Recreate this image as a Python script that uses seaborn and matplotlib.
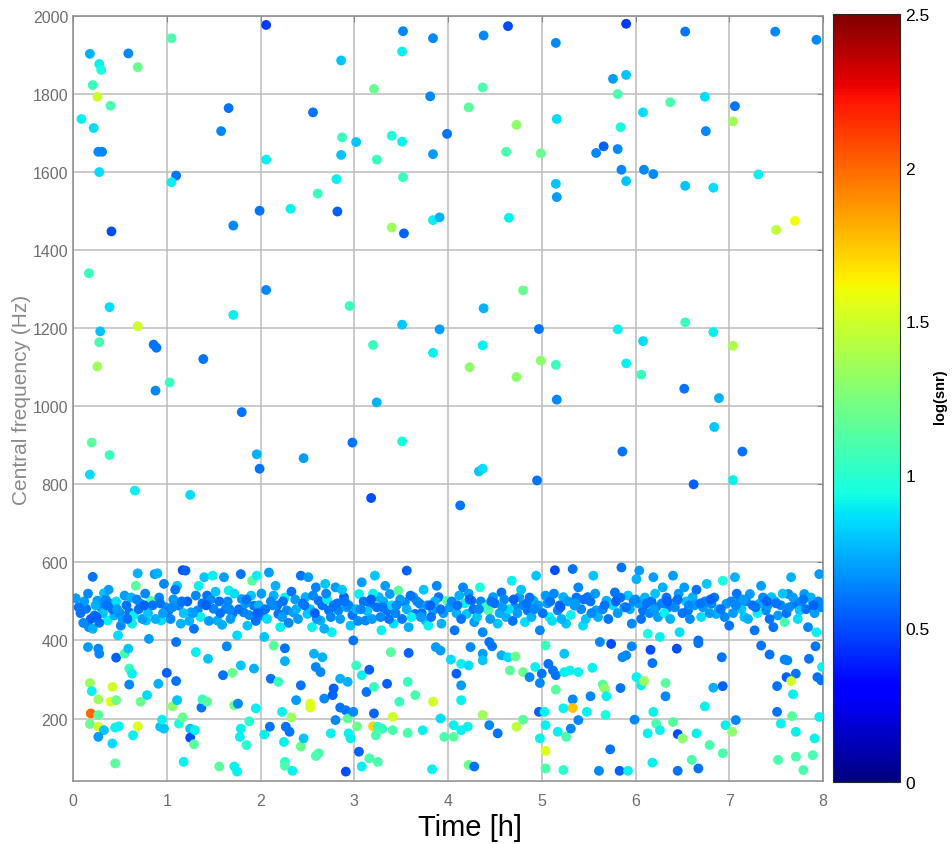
import pandas as pd
import seaborn as sns
import matplotlib.pyplot as plt
import matplotlib as mpl

# events above 600 Hz
high_time = [1.05, 0.18, 0.59, 0.28, 0.30, 0.69, 0.21, 0.26, 0.40, 0.09, 0.22, 1.66, 1.58, 0.27, 0.31, 0.28, 1.10, 1.05, 1.99, 1.71, 0.41, 0.17,
             2.06, 3.52, 3.84, 3.51, 2.86, 3.21, 3.81, 2.56, 2.87, 3.02, 3.40, 3.51, 3.99, 2.86, 3.24, 3.84, 2.06, 2.81, 3.52, 2.61, 2.32, 2.82, 3.40, 3.53, 3.84, 3.91,
             4.64, 4.38, 5.15, 5.90, 4.37, 5.76, 5.90, 5.81, 4.22, 4.73, 5.16, 5.84, 4.62, 4.99, 5.66, 5.58, 5.81, 5.85, 5.90, 5.15, 5.16, 4.65,
             6.53, 7.49, 7.93, 6.74, 6.37, 6.08, 7.06, 7.04, 6.75, 6.09, 6.19, 7.31, 6.53, 6.83, 7.50, 7.70,
             0.39, 0.29, 0.69, 0.28, 0.26, 0.86, 0.89, 1.39, 1.71, 1.03, 0.88, 1.80, 0.20, 0.39, 0.18, 0.66, 1.25, 1.96, 1.99,
             2.06, 2.95, 3.51, 3.91, 3.20, 3.84, 3.24, 2.98, 3.51, 2.46, 3.18,
             4.80, 4.38, 4.97, 5.81, 4.37, 4.99, 5.15, 4.23, 4.73, 5.90, 5.16, 5.86, 4.33, 4.37, 4.95, 4.13,
             6.53, 6.83, 6.08, 7.04, 6.06, 6.52, 6.89, 6.84, 7.14, 6.62, 7.04]
high_freq = [1943, 1903, 1904, 1877, 1862, 1869, 1823, 1793, 1770, 1736, 1713, 1764, 1705, 1652, 1652, 1600, 1591, 1574, 1501, 1463, 1448, 1341,
             1977, 1961, 1943, 1909, 1886, 1813, 1794, 1753, 1689, 1677, 1693, 1678, 1698, 1644, 1632, 1646, 1632, 1582, 1587, 1545, 1506, 1499, 1458, 1443, 1477, 1484,
             1974, 1950, 1931, 1980, 1817, 1839, 1849, 1800, 1766, 1721, 1736, 1715, 1652, 1648, 1666, 1649, 1659, 1606, 1577, 1570, 1536, 1483,
             1960, 1960, 1939, 1793, 1779, 1753, 1769, 1730, 1705, 1606, 1595, 1594, 1565, 1560, 1452, 1475,
             1254, 1192, 1205, 1164, 1102, 1158, 1150, 1121, 1234, 1061, 1040, 985, 907, 875, 825, 784, 773, 877, 840,
             1298, 1257, 1209, 1197, 1157, 1137, 1010, 907, 910, 867, 765,
             1297, 1251, 1198, 1197, 1156, 1117, 1106, 1100, 1075, 1110, 1017, 884, 833, 840, 810, 746,
             1215, 1190, 1167, 1155, 1081, 1045, 1021, 947, 884, 800, 811]
high_snr = [1.1, 0.75, 0.65, 0.9, 0.95, 1.2, 1.05, 1.5, 1.1, 0.9, 0.85, 0.6, 0.65, 0.65, 0.65, 0.85, 0.6, 0.9, 0.6, 0.65, 0.5, 1.05,
            0.45, 0.65, 0.65, 0.9, 0.8, 1.2, 0.65, 0.6, 1.05, 0.8, 0.95, 0.9, 0.6, 0.8, 1.05, 0.7, 0.9, 0.9, 1.05, 1.05, 0.9, 0.55, 1.35, 0.55, 0.9, 0.75,
            0.5, 0.65, 0.65, 0.45, 1.1, 0.7, 0.8, 1.1, 1.15, 1.3, 0.85, 0.95, 1.1, 1.2, 0.55, 0.65, 0.65, 0.65, 0.8, 0.8, 0.7, 0.9,
            0.6, 0.65, 0.65, 0.85, 1.1, 0.85, 0.6, 1.35, 0.65, 0.65, 0.65, 0.9, 0.8, 0.85, 1.45, 1.6,
            0.85, 0.8, 1.5, 1.1, 1.35, 0.6, 0.6, 0.6, 0.9, 1.05, 0.65, 0.6, 1.15, 1.05, 0.85, 0.9, 0.85, 0.75, 0.6,
            0.65, 1.05, 0.8, 0.7, 1.05, 0.9, 0.75, 0.6, 0.95, 0.7, 0.5,
            1.2, 0.75, 0.6, 0.9, 0.9, 1.3, 1.05, 1.3, 1.3, 0.9, 0.65, 0.6, 0.8, 0.85, 0.6, 0.6,
            1.05, 0.9, 0.85, 1.4, 1.05, 0.6, 0.75, 0.8, 0.6, 0.55, 0.9]

# sparse events below 400 Hz, first half
low1_time = [0.16, 0.27, 0.28, 0.46, 0.55, 0.59, 0.60, 0.63, 0.60, 0.18, 0.20, 0.42, 0.27, 0.40, 0.46, 0.72, 0.79, 0.91, 1.00, 1.10,
             1.10, 1.31, 1.44, 1.64, 1.70, 1.79, 1.93, 1.60,
             0.19, 0.27, 0.18, 0.27, 0.33, 0.27, 0.42, 0.45, 0.45, 0.49, 0.64, 0.69, 0.93, 0.97, 0.95, 1.06, 1.11, 1.13, 1.17, 1.18,
             1.25, 1.25, 1.30, 1.29, 1.37, 1.38, 1.43, 1.56, 1.72, 1.75, 1.72, 1.76, 1.79, 1.78, 1.85, 1.88, 1.95,
             2.04, 2.10, 2.11, 2.19, 2.14, 2.26, 2.26, 2.23, 2.27, 2.31, 2.25, 2.33, 2.26, 2.26, 2.34, 2.38, 2.43, 2.43, 2.46, 2.53,
             2.53, 2.59, 2.62, 2.57, 2.66, 2.59, 2.64, 2.68, 2.75, 2.77, 2.78, 2.80, 2.85, 2.93, 2.85, 2.91, 2.93, 2.91, 2.94, 2.96, 2.99]
low1_freq = [383, 379, 366, 356, 366, 379, 328, 315, 287, 291, 270, 281, 249, 243, 247, 243, 260, 289, 317, 296,
             396, 370, 353, 385, 317, 336, 328, 311,
             213, 209, 186, 179, 170, 153, 136, 85, 177, 180, 157, 180, 179, 174, 197, 231, 247, 187, 203, 89,
             174, 151, 170, 134, 228, 249, 243, 77, 77, 64, 234, 238, 174, 153, 132, 193, 226,
             159, 179, 302, 294, 387, 380, 347, 217, 179, 166, 140, 203, 89, 79, 66, 247, 285, 128, 149, 238,
             228, 104, 111, 366, 357, 332, 319, 251, 162, 260, 277, 196, 302, 294, 228, 221, 200, 64, 162, 149, 217]
low1_snr = [0.7, 0.65, 0.65, 0.55, 1.1, 0.8, 1.05, 0.9, 0.65, 1.35, 0.9, 1.5, 1.35, 1.55, 1.2, 1.2, 0.85, 0.75, 0.55, 0.6,
            0.6, 0.9, 0.8, 0.65, 1.2, 0.8, 0.75, 0.6,
            2.0, 1.15, 1.2, 1.5, 0.8, 0.7, 0.85, 1.15, 0.9, 0.9, 0.9, 1.55, 0.8, 0.8, 0.9, 1.3, 0.8, 0.95, 1.2, 0.9,
            0.8, 0.5, 0.9, 1.15, 0.6, 1.05, 1.15, 1.15, 0.9, 0.9, 1.2, 0.65, 0.9, 0.9, 1.0, 1.0, 0.9,
            0.9, 0.6, 0.6, 1.05, 1.15, 0.6, 0.75, 0.9, 0.6, 0.6, 0.9, 1.35, 1.0, 1.1, 0.9, 0.7, 0.6, 1.2, 0.8, 1.55,
            1.55, 1.1, 1.1, 0.75, 0.75, 0.65, 0.65, 0.65, 0.9, 0.55, 0.55, 0.65, 0.75, 0.75, 0.6, 0.6, 1.15, 0.5, 0.9, 0.9, 0.65]

# sparse events below 400 Hz, second half
low2_time = [3.03, 3.02, 3.08, 3.05, 3.08, 3.13, 3.16, 3.16, 3.25, 3.21, 3.21, 3.20, 3.25, 3.30, 3.23, 3.35, 3.41, 3.39, 3.48, 3.41,
             3.58, 3.57, 3.57, 3.65, 3.73, 3.84, 3.83, 3.87, 3.92, 3.92, 3.96, 4.03, 4.06, 4.09, 4.14, 4.14, 4.06, 4.14, 4.21, 4.22,
             4.28, 4.14, 4.24,
             4.22, 4.37, 4.37, 4.44, 4.47, 4.57, 4.64, 4.72, 4.66, 4.80, 4.87, 4.93, 5.04, 5.07, 5.12, 5.15, 5.00, 4.98, 5.15, 5.24,
             5.24, 5.30, 5.39, 5.33, 5.33, 5.23, 5.48, 5.52, 5.54, 5.65, 5.67, 5.69, 5.68, 5.84, 5.86, 5.90, 5.96, 6.01, 6.06, 6.09,
             6.16, 6.18, 6.32, 6.32, 6.44, 6.67, 6.74, 6.83, 6.93, 6.92, 7.34, 7.43, 7.59, 7.62, 7.61, 7.71, 7.66, 7.51, 7.68, 7.85,
             7.92, 7.94, 7.98, 7.99,
             4.37, 4.44, 4.53, 4.73, 4.80, 4.97, 4.98, 5.03, 5.04, 5.17, 5.26, 5.31, 5.39, 5.04, 5.04, 5.23, 5.61, 5.73, 5.83, 5.92,
             5.99, 6.13, 6.19, 6.22, 6.26, 6.18, 6.40, 6.45, 6.50, 6.45, 6.60, 6.65, 6.67, 6.79, 6.93, 6.96, 7.03, 7.07, 7.51, 7.55,
             7.67, 7.71, 7.52, 7.71, 7.79, 7.89, 7.91, 7.96]
low2_freq = [180, 336, 311, 115, 77, 268, 325, 98, 89, 281, 213, 180, 179, 174, 157, 289, 204, 370, 243, 170,
             368, 294, 163, 260, 170, 243, 70, 383, 374, 200, 153, 351, 153, 315, 285, 247, 183, 170, 179, 81,
             77, 340, 383,
             336, 366, 349, 396, 385, 362, 357, 359, 323, 319, 306, 332, 387, 340, 323, 311, 315, 291, 274, 366,
             319, 323, 319, 249, 227, 226, 217, 257, 330, 287, 277, 257, 209, 278, 357, 362, 385, 306, 285, 296,
             376, 342, 291, 257, 379, 393, 231, 279, 283, 357, 387, 364, 351, 349, 306, 315, 296, 283, 262, 353,
             385, 306, 298, 332,
             209, 183, 162, 179, 197, 217, 149, 217, 183, 166, 153, 174, 196, 117, 72, 68, 66, 121, 66, 66,
             197, 162, 217, 187, 170, 87, 191, 160, 149, 66, 94, 162, 72, 132, 111, 183, 166, 196, 217, 187,
             206, 166, 94, 102, 68, 106, 149, 204]
low2_snr = [1.2, 1.05, 0.9, 0.55, 0.9, 0.6, 0.55, 1.1, 1.1, 1.05, 0.55, 1.7, 1.0, 1.05, 1.1, 0.55, 1.5, 1.15, 1.05, 1.1,
            0.55, 1.05, 1.1, 1.1, 0.9, 1.5, 0.9, 0.7, 0.7, 0.85, 1.1, 0.85, 1.15, 0.55, 0.7, 0.9, 0.9, 0.9, 0.9, 1.2,
            0.6, 0.9, 0.65,
            0.85, 0.7, 0.8, 0.6, 0.6, 0.75, 0.85, 1.2, 1.15, 1.2, 0.65, 0.9, 1.05, 0.6, 0.6, 0.6, 0.6, 0.65, 1.15, 0.8,
            0.9, 0.9, 0.9, 0.65, 1.75, 0.9, 0.9, 0.65, 0.9, 1.15, 1.3, 0.9, 0.95, 0.6, 0.65, 0.65, 0.65, 0.9, 0.9, 1.35,
            0.5, 0.6, 1.15, 0.65, 0.5, 0.6, 0.9, 0.75, 0.55, 0.6, 0.6, 0.6, 0.65, 0.65, 0.55, 0.6, 1.5, 0.6, 0.9, 0.6,
            0.6, 0.6, 0.6, 0.9,
            1.35, 0.65, 0.6, 1.45, 1.15, 0.55, 0.9, 0.9, 0.9, 0.9, 1.1, 0.65, 0.65, 1.55, 1.1, 1.0, 0.65, 0.6, 0.55, 0.9,
            0.65, 0.9, 0.9, 1.1, 0.9, 0.9, 1.15, 0.5, 1.3, 0.6, 1.1, 0.9, 0.6, 1.1, 1.1, 0.9, 1.3, 0.65, 0.6, 0.9,
            1.15, 0.9, 1.1, 1.1, 1.1, 1.1, 0.9, 0.9]

# dense band 400-590 Hz, first four hours
band1_time = [0.03, 0.21, 0.14, 0.17, 0.21, 0.23, 0.26, 0.30, 0.33, 0.37, 0.40, 0.44, 0.48, 0.51, 0.55, 0.60, 0.63, 0.67, 0.69, 0.72,
              0.78, 0.81, 0.83, 0.87, 0.90, 0.94, 0.97, 0.99, 1.02, 1.11, 1.13, 1.15, 1.17, 1.20, 1.26, 1.29, 1.33, 1.34, 1.40, 1.43,
              1.49, 1.50, 1.54, 1.61, 1.63, 1.66, 1.70, 1.75, 1.79, 1.80, 1.82, 1.86, 1.91, 1.93, 1.96, 2.02, 2.04, 2.09, 2.14, 2.19,
              2.21, 2.28, 2.35, 2.43, 2.48, 2.50, 2.51, 2.55, 2.59, 2.62, 2.64, 2.69, 2.73, 2.76, 2.80, 2.83, 2.89, 2.92, 2.96, 2.99,
              3.05, 3.08, 3.12, 3.17, 3.22, 3.26, 3.29, 3.35, 3.38, 3.42, 3.47, 3.54, 3.56, 3.58, 3.63, 3.65, 3.70, 3.76, 3.79, 3.84,
              3.90, 3.93, 3.99,
              0.08, 0.12, 0.16, 0.19, 0.24, 0.28, 0.32, 0.35, 0.38, 0.42, 0.46, 0.50, 0.53, 0.57, 0.62, 0.65, 0.70, 0.74, 0.77, 0.80,
              0.85, 0.88, 0.92, 0.96,
              1.04, 1.07, 1.09, 1.18, 1.22, 1.24, 1.31, 1.36, 1.38, 1.45, 1.47, 1.52, 1.57, 1.59, 1.65, 1.68, 1.72, 1.77, 1.84, 1.88,
              1.90, 1.95, 1.98,
              2.01, 2.05, 2.07, 2.11, 2.16, 2.18, 2.23, 2.26, 2.30, 2.33, 2.38, 2.40, 2.45, 2.53, 2.56, 2.60, 2.66, 2.68, 2.71, 2.75,
              2.78, 2.85, 2.87, 2.94, 2.98,
              3.02, 3.04, 3.10, 3.14, 3.19, 3.20, 3.24, 3.28, 3.31, 3.33, 3.37, 3.40, 3.44, 3.49, 3.51, 3.56, 3.61, 3.67, 3.72, 3.74,
              3.78, 3.82, 3.86, 3.88, 3.95,
              0.06, 0.11, 0.25, 0.36, 0.47, 0.58, 0.68, 0.76, 0.93, 1.06, 1.16, 1.28, 1.42, 1.56, 1.67, 1.85, 1.97, 2.13, 2.24, 2.37,
              2.47, 2.58, 2.70, 2.82, 2.90, 3.07, 3.18, 3.30, 3.45, 3.60, 3.71, 3.81, 3.92]
band1_freq = [508, 563, 481, 434, 430, 464, 502, 485, 521, 451, 494, 464, 413, 438, 515, 472, 443, 540, 572, 494,
              451, 404, 502, 570, 572, 451, 545, 485, 477, 540, 489, 443, 580, 579, 472, 430, 477, 540, 562, 515,
              566, 481, 451, 562, 481, 528, 468, 413, 570, 506, 472, 438, 553, 489, 566, 464, 409, 574, 515, 468,
              434, 477, 472, 566, 511, 468, 562, 434, 536, 502, 451, 545, 477, 421, 536, 477, 511, 485, 438, 400,
              519, 549, 451, 494, 566, 511, 426, 477, 519, 443, 528, 498, 579, 434, 511, 468, 494, 451, 438, 477,
              511, 443, 502,
              470, 500, 520, 455, 490, 445, 470, 505, 530, 480, 500, 470, 455, 490, 510, 465, 480, 455, 520, 470,
              490, 455, 510, 470,
              455, 505, 530, 470, 500, 450, 515, 460, 495, 450, 505, 525, 470, 440, 500, 455, 520, 480, 495, 465,
              515, 450, 490,
              520, 480, 455, 500, 540, 490, 460, 510, 445, 525, 480, 455, 495, 480, 515, 455, 490, 430, 505, 460,
              490, 455, 530, 490, 465,
              480, 450, 500, 475, 455, 520, 485, 460, 500, 540, 455, 490, 470, 505, 455, 480, 460, 500, 470, 530,
              490, 460, 500, 540, 470,
              485, 445, 460, 490, 480, 455, 505, 490, 495, 485, 500, 470, 490, 500, 480, 505, 470, 490, 500, 505,
              490, 470, 520, 495, 500, 480, 505, 485, 490, 515, 460, 490, 480]
band1_snr = [0.7, 0.6, 0.6, 0.65, 0.75, 0.6, 0.7, 0.65, 0.8, 0.9, 0.6, 0.75, 0.85, 0.65, 0.7, 0.6, 0.9, 1.15, 0.75, 0.65,
             0.8, 0.7, 1.15, 0.7, 0.75, 0.85, 0.65, 0.7, 0.6, 0.8, 0.65, 0.75, 0.5, 0.55, 0.7, 0.6, 0.65, 0.9, 0.8, 0.6,
             0.9, 0.65, 0.75, 0.7, 0.65, 0.9, 0.6, 0.85, 0.6, 0.7, 0.65, 0.8, 1.15, 0.6, 0.9, 0.65, 0.8, 0.7, 0.75, 0.6,
             0.9, 0.65, 0.7, 0.6, 0.75, 0.8, 0.7, 0.9, 0.65, 0.6, 0.75, 0.8, 0.6, 0.9, 0.7, 0.65, 0.55, 0.7, 0.8, 0.6,
             0.9, 0.7, 0.65, 0.6, 0.8, 0.75, 0.9, 0.6, 0.7, 0.85, 1.15, 0.65, 0.55, 0.75, 0.7, 0.6, 0.65, 0.8, 0.9, 0.7,
             0.6, 0.75, 1.15,
             0.6, 0.7, 0.65, 0.55, 0.75, 0.6, 0.8, 0.65, 0.7, 0.6, 0.85, 0.65, 0.7, 0.6, 0.75, 0.9, 0.6, 0.7, 0.65, 0.8,
             0.6, 0.75, 0.65, 0.7,
             0.65, 0.7, 0.6, 0.8, 0.55, 0.75, 0.65, 0.9, 0.6, 0.7, 0.65, 0.8, 0.6, 0.75, 0.65, 0.7, 0.85, 0.6, 0.7, 0.65,
             0.8, 0.6, 0.75,
             0.7, 0.6, 0.85, 0.65, 0.75, 0.6, 0.7, 0.9, 0.65, 0.6, 0.75, 0.7, 0.6, 0.8, 0.65, 0.7, 0.6, 0.75, 0.9, 0.65,
             0.6, 0.7, 0.8, 0.65, 0.6,
             0.75, 0.65, 0.6, 0.8, 0.7, 0.9, 0.6, 0.65, 0.75, 0.7, 0.6, 0.85, 0.65, 0.7, 0.6, 0.75, 0.9, 0.65, 0.6, 0.8,
             0.7, 0.6, 0.75, 0.65, 0.7,
             0.6, 0.65, 0.55, 0.6, 0.7, 0.6, 0.65, 0.55, 0.6, 0.65, 0.6, 0.7, 0.55, 0.6, 0.65, 0.6, 0.55, 0.65, 0.6, 0.7,
             0.6, 0.55, 0.65, 0.6, 0.6, 0.65, 0.55, 0.6, 0.65, 0.6, 0.7, 0.55, 0.6]

# dense band 400-590 Hz, last four hours
band2_time = [4.02, 4.07, 4.12, 4.16, 4.20, 4.25, 4.28, 4.34, 4.37, 4.43, 4.48, 4.53, 4.57, 4.62, 4.68, 4.71, 4.76, 4.82, 4.85, 4.91,
              4.94, 4.98, 5.04, 5.08, 5.14, 5.17, 5.23, 5.26, 5.33, 5.35, 5.39, 5.44, 5.49, 5.55, 5.58, 5.62, 5.69, 5.74, 5.78, 5.85,
              5.88, 5.92, 5.96, 6.01, 6.04, 6.08, 6.13, 6.19, 6.22, 6.26, 6.29, 6.35, 6.40, 6.44, 6.47, 6.52, 6.56, 6.61, 6.67, 6.72,
              6.76, 6.81, 6.86, 6.93, 6.97, 7.00, 7.06, 7.11, 7.16, 7.22, 7.27, 7.32, 7.34, 7.39, 7.45, 7.47, 7.52, 7.59, 7.63, 7.66,
              7.70, 7.75, 7.80, 7.84, 7.89, 7.93, 7.96, 7.98,
              4.04, 4.09, 4.14, 4.18, 4.22, 4.27, 4.31, 4.35, 4.40, 4.45, 4.50, 4.55, 4.60, 4.65, 4.69, 4.74, 4.78, 4.80, 4.87, 4.89,
              4.96,
              5.01, 5.06, 5.11, 5.13, 5.19, 5.21, 5.28, 5.31, 5.37, 5.42, 5.47, 5.52, 5.57, 5.60, 5.65, 5.71, 5.76, 5.81, 5.84, 5.94,
              5.98,
              6.03, 6.06, 6.10, 6.15, 6.17, 6.21, 6.24, 6.28, 6.31, 6.33, 6.37, 6.42, 6.46, 6.50, 6.54, 6.58, 6.63, 6.65, 6.70, 6.74,
              6.79, 6.84, 6.89, 6.95,
              7.02, 7.04, 7.08, 7.13, 7.18, 7.20, 7.25, 7.30, 7.36, 7.41, 7.43, 7.49, 7.55, 7.57, 7.61, 7.68, 7.73, 7.77, 7.82, 7.87,
              7.91, 7.95,
              4.10, 4.23, 4.33, 4.46, 4.58, 4.70, 4.84, 4.92, 5.09, 5.20, 5.36, 5.45, 5.53, 5.67, 5.79, 5.90, 6.00, 6.12, 6.20, 6.34,
              6.45, 6.57, 6.69, 6.80, 6.91, 7.07, 7.15, 7.28, 7.40, 7.50, 7.64, 7.79, 7.90]
band2_freq = [485, 426, 515, 536, 468, 502, 447, 536, 421, 477, 511, 443, 523, 460, 553, 485, 511, 447, 477, 502,
              566, 426, 515, 460, 580, 477, 511, 443, 583, 489, 536, 438, 511, 566, 477, 396, 502, 391, 523, 587,
              485, 515, 443, 557, 579, 477, 417, 562, 485, 409, 536, 485, 566, 502, 421, 536, 477, 511, 400, 485,
              545, 494, 468, 553, 494, 438, 562, 502, 460, 519, 426, 494, 540, 477, 511, 434, 464, 447, 519, 562,
              494, 477, 519, 434, 498, 421, 570, 485,
              500, 470, 455, 495, 520, 480, 460, 500, 485, 455, 495, 470, 505, 480, 450, 470, 530, 490, 510, 460,
              490,
              470, 495, 450, 520, 490, 455, 500, 465, 510, 480, 455, 500, 520, 460, 480, 455, 490, 470, 510, 480,
              500,
              495, 455, 510, 470, 500, 520, 460, 495, 470, 510, 455, 485, 520, 470, 500, 455, 490, 530, 460, 500,
              470, 510, 480, 460,
              500, 470, 520, 480, 500, 455, 490, 470, 510, 490, 455, 500, 490, 520, 470, 510, 455, 500, 480, 510,
              470, 500,
              490, 505, 480, 500, 485, 505, 495, 480, 500, 485, 495, 505, 470, 490, 500, 485, 505, 495, 480, 500,
              505, 490, 495, 505, 480, 490, 505, 485, 500, 495, 485, 505, 490]
band2_snr = [0.7, 0.6, 0.75, 0.65, 0.8, 0.6, 0.7, 0.95, 0.65, 1.15, 0.7, 0.8, 0.6, 0.75, 0.9, 0.65, 0.7, 0.85, 0.6, 0.75,
             0.8, 0.65, 0.7, 0.9, 0.5, 0.65, 0.75, 0.8, 0.6, 0.7, 0.65, 0.85, 0.6, 0.8, 0.7, 0.65, 0.75, 0.5, 0.6, 0.6,
             0.7, 0.8, 0.65, 0.75, 0.7, 0.6, 0.95, 0.7, 0.65, 0.9, 0.75, 0.6, 0.7, 0.65, 0.85, 0.7, 0.6, 0.75, 0.6, 0.7,
             0.8, 0.65, 0.75, 0.95, 0.7, 0.6, 0.75, 0.65, 0.8, 0.7, 0.6, 0.75, 0.7, 0.65, 0.8, 0.6, 0.7, 1.1, 0.65, 0.75,
             0.6, 0.8, 0.7, 0.65, 0.75, 0.9, 0.7, 0.65,
             0.65, 0.75, 0.6, 0.9, 0.7, 0.6, 0.8, 0.65, 1.05, 0.7, 0.6, 0.75, 0.65, 0.85, 0.6, 0.7, 0.8, 0.65, 0.6, 0.75,
             0.7,
             0.6, 0.7, 0.85, 0.65, 0.6, 0.75, 0.7, 0.9, 0.6, 0.65, 0.8, 0.6, 0.7, 0.75, 0.65, 0.6, 0.85, 0.7, 0.6, 0.75,
             0.65,
             0.7, 0.6, 0.75, 0.65, 0.6, 0.8, 0.7, 0.65, 0.9, 0.6, 0.75, 0.65, 0.7, 0.6, 0.8, 0.65, 0.7, 0.6, 0.85, 0.65,
             0.7, 0.6, 0.75, 0.65,
             0.65, 0.7, 0.6, 0.8, 0.65, 0.75, 0.6, 0.9, 0.65, 0.7, 0.6, 0.75, 0.65, 0.8, 0.6, 0.7, 0.85, 0.65, 0.6, 0.75,
             0.7, 0.65,
             0.6, 0.55, 0.65, 0.6, 0.7, 0.55, 0.6, 0.65, 0.6, 0.55, 0.7, 0.6, 0.65, 0.6, 0.55, 0.6, 0.65, 0.6, 0.7, 0.55,
             0.6, 0.65, 0.6, 0.55, 0.6, 0.65, 0.7, 0.6, 0.55, 0.6, 0.65, 0.6, 0.55]

groups = [(high_time, high_freq, high_snr), (low1_time, low1_freq, low1_snr), (low2_time, low2_freq, low2_snr),
          (band1_time, band1_freq, band1_snr), (band2_time, band2_freq, band2_snr)]
data = pd.concat([pd.DataFrame({'time': t, 'freq': f, 'snr': c}) for t, f, c in groups], ignore_index=True)

sns.set_style('white')
plt.rcParams['font.family'] = ['Liberation Sans', 'DejaVu Sans']

fig = plt.figure(figsize=(9.53, 8.45), dpi=100)
ax = fig.add_axes([0.0766, 0.0746, 0.787, 0.9053])
cax = fig.add_axes([0.874, 0.0734, 0.0703, 0.9089])

jet = mpl.colormaps['jet']
sns.scatterplot(data=data, x='time', y='freq', hue='snr', palette=jet, hue_norm=(0, 2.5),
                s=50, linewidth=0, legend=False, ax=ax, zorder=3)

ax.set_xlim(0, 8)
ax.set_ylim(40, 2000)
ax.set_xticks(range(0, 9))
ax.set_yticks(range(200, 2001, 200))
ax.grid(True, color='#bcbcbc', linewidth=1.1)
ax.set_axisbelow(True)
ax.tick_params(direction='in', length=4, top=True, right=True, color='#888888',
               labelcolor='#6e6e6e', labelsize=11.5)
ax.tick_params(axis='x', pad=9)
for sp in ax.spines.values():
    sp.set_color('#8a8a8a')
    sp.set_linewidth(1.1)
ax.set_xlabel('')
ax.set_ylabel('')

fig.text(470 / 953, 1 - 828 / 845, 'Time [h]', ha='center', va='center', fontsize=21, color='black')
fig.text(22 / 953, 1 - 400 / 845, 'Central frequency (Hz)', ha='center', va='center',
         rotation=90, fontsize=15, color='#8a8a8a')

norm = mpl.colors.Normalize(vmin=0, vmax=2.5)
sm = mpl.cm.ScalarMappable(norm=norm, cmap=jet)
cbar = fig.colorbar(sm, cax=cax)
cbar.set_ticks([0, 0.5, 1, 1.5, 2, 2.5])
cbar.set_ticklabels(['0', '0.5', '1', '1.5', '2', '2.5'])
cbar.ax.tick_params(direction='in', length=4, left=True, right=True, labelsize=12.5, labelcolor='black', pad=4)
cbar.outline.set_linewidth(0.8)
fig.text(940 / 953, 1 - 397 / 845, 'log(snr)', ha='center', va='center', rotation=90,
         fontsize=10.5, fontweight='bold', color='black')

fig.savefig('out.png', dpi=100)
